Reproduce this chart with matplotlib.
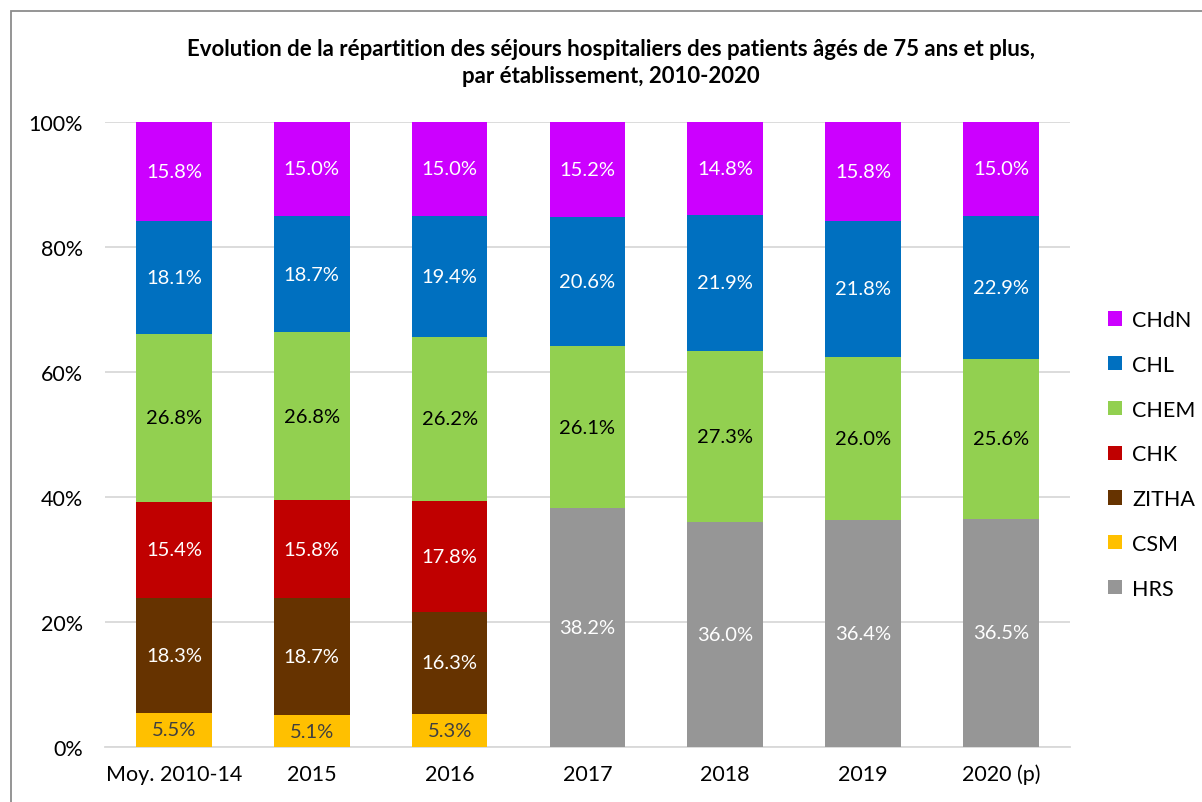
import numpy as np
import matplotlib.pyplot as plt
from matplotlib.patches import Rectangle

plt.rcParams['font.family'] = ['Lato', 'DejaVu Sans']

categories = ['Moy. 2010-14', '2015', '2016', '2017', '2018', '2019', '2020 (p)']
# bottom to top
series = ['HRS', 'CSM', 'ZITHA', 'CHK', 'CHEM', 'CHL', 'CHdN']
hrs = [0, 0, 0, 38.2, 36.0, 36.4, 36.5]
csm = [5.5, 5.1, 5.3, 0, 0, 0, 0]
zitha = [18.3, 18.7, 16.3, 0, 0, 0, 0]
chk = [15.4, 15.8, 17.8, 0, 0, 0, 0]
chem = [26.8, 26.8, 26.2, 26.1, 27.3, 26.0, 25.6]
chl = [18.1, 18.7, 19.4, 20.6, 21.9, 21.8, 22.9]
chdn = [15.8, 15.0, 15.0, 15.2, 14.8, 15.8, 15.0]

colors = {'HRS': '#969696', 'CSM': '#FFC000', 'ZITHA': '#663300', 'CHK': '#C00000',
          'CHEM': '#92D050', 'CHL': '#0070C0', 'CHdN': '#CC00FF'}
label_col = {'HRS': 'white', 'CSM': '#404040', 'ZITHA': 'white', 'CHK': 'white',
             'CHEM': 'black', 'CHL': 'white', 'CHdN': 'white'}

data = np.array([hrs, csm, zitha, chk, chem, chl, chdn], dtype=float)
totals = data.sum(axis=0)
shares = data / totals * 100  # 100% stacked, like excel

fig = plt.figure(figsize=(12.02, 8.03), dpi=100)
ax = fig.add_axes([0.0874, 0.0685, 0.8026, 0.7783])

x = np.arange(len(categories))
bottom = np.zeros(len(categories))
handles = {}
for i, name in enumerate(series):
    h = ax.bar(x, shares[i], 0.55, bottom=bottom, color=colors[name], zorder=3)
    handles[name] = h
    for j in range(len(categories)):
        if data[i, j] > 0:
            ax.text(x[j], bottom[j] + shares[i, j] / 2, f'{data[i, j]:.1f}%',
                    ha='center', va='center', fontsize=14.5, color=label_col[name], zorder=4)
    bottom += shares[i]

ax.set_xlim(-0.5, len(categories) - 0.5)
ax.set_ylim(0, 100)
ax.set_yticks([0, 20, 40, 60, 80, 100])
ax.set_yticklabels(['0%', '20%', '40%', '60%', '80%', '100%'], fontsize=15.5)
ax.set_xticks(x)
ax.set_xticklabels(categories, fontsize=15.5)
ax.tick_params(axis='y', length=0, pad=16)
ax.tick_params(axis='x', length=0, pad=12)
ax.grid(axis='y', color='#d9d9d9', linewidth=1.3, zorder=0)
for s in ['top', 'right', 'left']:
    ax.spines[s].set_visible(False)
ax.spines['bottom'].set_color('#d9d9d9')
ax.spines['bottom'].set_linewidth(1.3)

order = ['CHdN', 'CHL', 'CHEM', 'CHK', 'ZITHA', 'CSM', 'HRS']
fig.legend([handles[n] for n in order], order, loc='center left',
           bbox_to_anchor=(0.922, 0.433), frameon=False, fontsize=15.5,
           handlelength=0.65, handleheight=0.65, handletextpad=0.45, labelspacing=1.15,
           borderaxespad=0, borderpad=0)

fig.text(0.508, 0.922, 'Evolution de la répartition des séjours hospitaliers des patients âgés de 75 ans et plus,\npar établissement, 2010-2020',
         ha='center', va='center', fontsize=16, fontweight='bold', linespacing=1.35)

fig.patches.append(Rectangle((11 / 1202, -0.05), 1.2, 1 - 12 / 803 + 0.05, transform=fig.transFigure,
                             fill=False, edgecolor='#8c8c8c', linewidth=1.3))

fig.savefig('out.png', dpi=100)
